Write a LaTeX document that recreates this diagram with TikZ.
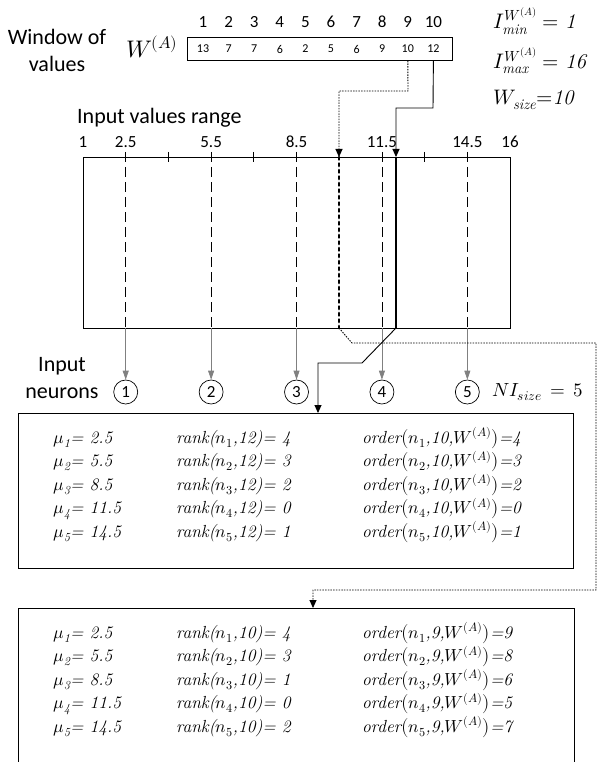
\documentclass[tikz,border=0pt]{standalone}
\usepackage{fontspec}
\usepackage{unicode-math}
\setmathfont{Latin Modern Math}
\newfontfamily\cali{Carlito}
\usetikzlibrary{arrows.meta,calc}
\begin{document}
\begin{tikzpicture}[x=1pt,y=-1pt,
  lbl/.style={font=\cali\fontsize{22}{27}\selectfont, inner sep=0},
  num/.style={font=\cali\fontsize{17}{18}\selectfont, inner sep=0},
  cellnum/.style={font=\cali\fontsize{12}{13}\selectfont, inner sep=0},
  mth/.style={font=\fontsize{21}{23}\selectfont, inner sep=0},
  guide/.style={dash pattern=on 10pt off 5pt, line width=0.8pt},
  feed/.style={draw=gray, line width=0.7pt, -{Triangle[length=9pt,width=6pt]}},
  neuron/.style={circle, draw, line width=0.7pt, minimum size=24pt, inner sep=0, font=\cali\fontsize{17}{18}\selectfont},
  row/.style={font=\fontsize{17.5}{19}\selectfont\itshape, anchor=base west, inner sep=0},
  panel/.style={draw, line width=0.8pt, inner sep=0, anchor=north west},
  link/.style={line width=0.9pt, -{Triangle[length=8pt,width=7pt]}},
  dlink/.style={line width=0.9pt, dash pattern=on 1.5pt off 1.2pt, -{Triangle[length=8pt,width=7pt]}}
  ]
\useasboundingbox (0,0) rectangle (606,762);
\clip (0,0) rectangle (606,762);

% ---- window of values
\node[lbl, align=center] (wlab) at (57,50) {Window of\\values};
\node[mth, font=\fontsize{24}{26}\selectfont] (wa) at (152,47) {$W^{(A)}$};
\node[panel, minimum width=265pt, minimum height=23pt] (win) at (187,37) {};
\foreach \v [count=\i] in {13,7,7,6,2,5,6,9,10,12}{
  \node[cellnum] (c\i) at ({203+25.6*(\i-1)},49) {\v};
  \node[num] (h\i) at ({203+25.6*(\i-1)},22) {\i};
}
\node[mth, anchor=west] (imin) at (493,21) {$I^{W^{(A)}}_{\mathit{min}} = \textit{1}$};
\node[mth, anchor=west] (imax) at (493,61) {$I^{W^{(A)}}_{\mathit{max}} = \textit{16}$};
\node[mth, anchor=west] (wsz) at (493,100) {$W_{\mathit{size}}{=}\textit{10}$};

% ---- input values range
\node[lbl, anchor=west] (ivr) at (77,118) {Input values range};
\node[panel, minimum width=427pt, minimum height=171pt] (rng) at (83,157) {};
\foreach \v/\t in {1/1,2.5/2.5,5.5/5.5,8.5/8.5,11.5/11.5,14.5/14.5,16/16}{
  \node[num] at ({83+28.47*(\v-1)},142) {\t};
}
\foreach \v in {4,7,13}{
  \draw[line width=0.8pt] ({83+28.47*(\v-1)},152) -- ({83+28.47*(\v-1)},162);
}
% neurons
\foreach \v [count=\i] in {2.5,5.5,8.5,11.5,14.5}{
  \coordinate (g\i) at ({83+28.47*(\v-1)},152);
  \coordinate (b\i) at ({83+28.47*(\v-1)},328);
  \node[neuron] (n\i) at ({83+28.47*(\v-1)},392) {\i};
  \draw[guide] (g\i) -- (b\i);
  \draw[feed] (b\i) -- (n\i.north);
}
\coordinate (t10) at (339,157);
\coordinate (e10) at (339,328);
\coordinate (t12) at (396,157);
\coordinate (e12) at (396,328);
\draw[line width=2.8pt, line cap=round, dash pattern=on 2.5pt off 4pt] (t10) -- (e10);
\draw[line width=2.8pt] (t12) -- (e12);

\node[lbl, align=center] (inlab) at (62,378) {Input\\neurons};
\node[mth, font=\fontsize{19}{21}\selectfont, anchor=west] (nis) at (492,392) {$NI_{size}\,=\,5$};

% ---- connectors from the window
\coordinate (k9) at (c9 |- win.south);
\coordinate (k10) at (c10 |- win.south);
\coordinate (d1) at (408,91);
\coordinate (s1) at (433,108);
\draw[dlink] (k9) -- (d1) -| (t10);
\draw[link] (k10) -- (s1) -| (t12);

% ---- tables
\node[panel, minimum width=555pt, minimum height=155pt] (box1) at (18,413) {};
\node[panel, minimum width=556pt, minimum height=200pt] (box2) at (18,608) {};

\coordinate (sa) at (362,363);
\coordinate (sb) at (318,363);
\draw[link] (e12) -- (sa) -- (sb) -- (sb |- box1.north);
\coordinate (da) at (352,343);
\coordinate (db) at (596,343);
\coordinate (dc) at (596,590);
\coordinate (dd) at (313,590);
\draw[dlink] (e10) -- (da) -- (db) -- (dc) -- (dd) -- (dd |- box2.north);

% rows box 1
\foreach \m/\r/\o [count=\i] in {2.5/4/4, 5.5/3/3, 8.5/2/2, 11.5/0/0, 14.5/1/1}{
  \node[row] (ma\i) at (53,{443+23.5*(\i-1)}) {$\mu_{\mathit{\i}}$= \m};
  \node[row] (ra\i) at (176,{443+23.5*(\i-1)}) {rank($n_{\i}$,12)= \r};
  \node[row] (oa\i) at (362,{443+23.5*(\i-1)}) {order$\bigl(n_{\i}$,10,$W^{(A)}\bigr)$=\o};
}
% rows box 2
\foreach \m/\r/\o [count=\i] in {2.5/4/9, 5.5/3/8, 8.5/1/6, 11.5/0/5, 14.5/2/7}{
  \node[row] (mb\i) at (53,{638+23.5*(\i-1)}) {$\mu_{\mathit{\i}}$= \m};
  \node[row] (rb\i) at (176,{638+23.5*(\i-1)}) {rank($n_{\i}$,10)= \r};
  \node[row] (ob\i) at (362,{638+23.5*(\i-1)}) {order$\bigl(n_{\i}$,9,$W^{(A)}\bigr)$=\o};
}
\end{tikzpicture}
\end{document}
